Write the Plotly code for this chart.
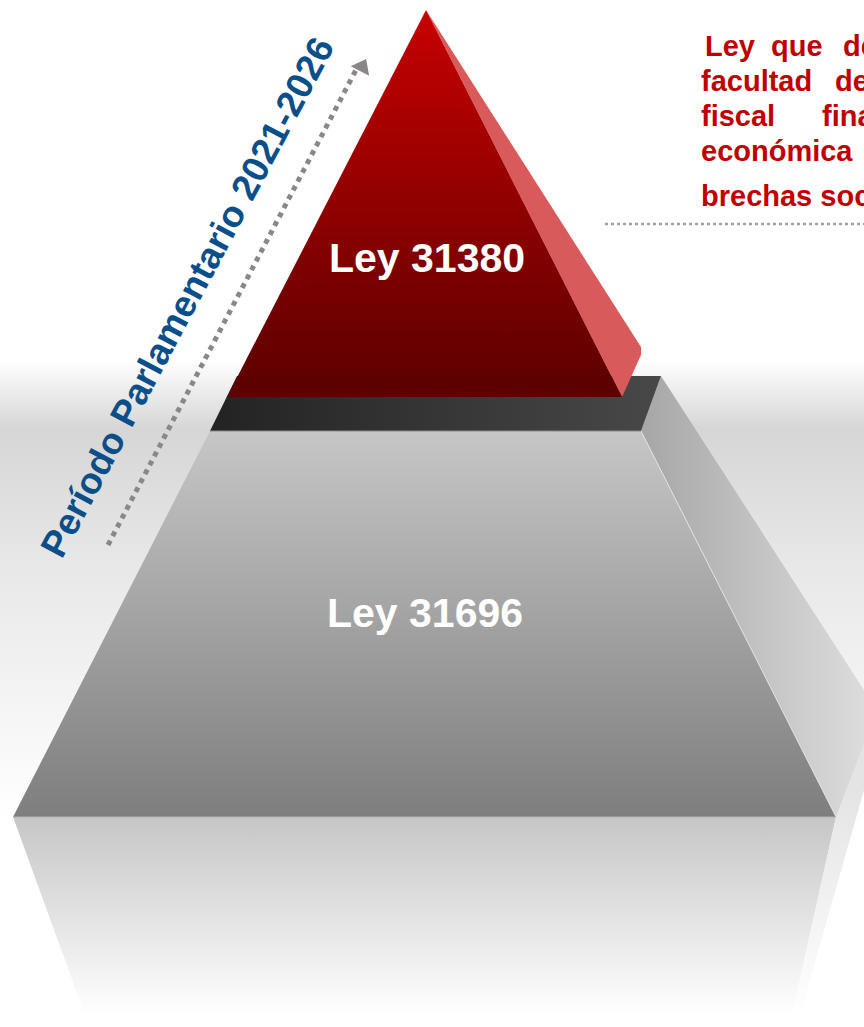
import plotly.graph_objects as go

# ---- data (labels and shape geometry in pixel space of the slide) ----
law_labels = ["Ley 31380", "Ley 31696"]
law_label_x = [427, 425]
law_label_y = [258, 613]
period_label = "Período Parlamentario 2021-2026"
desc_lines = [
    ["Ley", "que", "delega"],
    ["facultad", "de", "legislar"],
    ["fiscal", "financiera"],
    ["económica"],
    ["brechas sociales"],
]
desc_word_x = [
    [703, 769, 841],
    [699, 833, 920],
    [699, 820],
    [699],
    [699],
]
desc_line_y = [46, 81, 116, 151, 196]

# pyramid geometry (pixels)
red_front_x = [426, 622, 227]
red_front_y = [10, 397, 397]
red_side_x = [426, 641, 641, 622]
red_side_y = [10, 347, 355, 397]
slab_x = [237, 661, 641, 210]
slab_y = [376, 376, 431, 431]
base_front_x = [210, 641, 836, 13]
base_front_y = [431, 431, 817, 817]
base_side_x = [641, 661, 864, 864, 836]
base_side_y = [431, 376, 690, 745, 817]
edge_x = [641, 836]
edge_y = [431, 817]
refl_x = [13, 836, 792, 85]
refl_y = [817, 817, 1015, 1015]
refl_side_x = [836, 864, 864, 800, 792]
refl_side_y = [817, 745, 790, 1015, 1015]
bg_x = [0, 864, 864, 0]
bg_y = [360, 360, 820, 820]
arrow_x = [108, 357]
arrow_y = [545, 68]
arrow_tip = (362, 59)
leader_x = [605, 864]
leader_y = [224, 224]

W, H = 864, 1027
fig = go.Figure()


def poly(xs, ys, colorscale, gtype, start, stop):
    fig.add_trace(go.Scatter(
        x=xs + [xs[0]], y=ys + [ys[0]], mode="lines", fill="toself",
        line=dict(width=0, color="rgba(0,0,0,0)"),
        fillgradient=dict(type=gtype, colorscale=colorscale, start=start, stop=stop),
        hoverinfo="skip", showlegend=False))


# background soft band
poly(bg_x, bg_y, [[0, "#FFFFFF"], [0.15, "#D6D6D6"], [0.45, "#E8E8E8"], [1, "#FFFFFF"]],
     "vertical", 360, 820)
# reflection
poly(refl_x, refl_y, [[0, "#C6C6C6"], [1, "#FFFFFF"]], "vertical", 817, 1015)
poly(refl_side_x, refl_side_y, [[0, "#E4E4E4"], [1, "#FFFFFF"]], "vertical", 790, 1015)
# base side
poly(base_side_x, base_side_y, [[0, "#A6A6A6"], [1, "#DCDCDC"]], "horizontal", 641, 864)
# base front
poly(base_front_x, base_front_y, [[0, "#C6C6C6"], [1, "#7E7E7E"]], "vertical", 431, 817)
fig.add_trace(go.Scatter(x=edge_x, y=edge_y, mode="lines",
                         line=dict(color="rgba(235,235,235,0.8)", width=1),
                         hoverinfo="skip", showlegend=False))
fig.add_trace(go.Scatter(x=[base_front_x[3], base_front_x[2]], y=[817, 817], mode="lines",
                         line=dict(color="#B4B4B4", width=1),
                         hoverinfo="skip", showlegend=False))
# dark slab (top of base)
poly(slab_x, slab_y, [[0, "#232323"], [1, "#484848"]], "horizontal", 210, 661)
fig.add_trace(go.Scatter(x=[slab_x[3], slab_x[2]], y=[431, 431], mode="lines",
                         line=dict(color="#8A8A8A", width=1),
                         hoverinfo="skip", showlegend=False))
# red side
poly(red_side_x, red_side_y, [[0, "#D95A5A"], [1, "#D95A5A"]], "vertical", 10, 397)
# red front
poly(red_front_x, red_front_y, [[0, "#C80000"], [1, "#5A0000"]], "vertical", 10, 397)

# dotted arrow
fig.add_trace(go.Scatter(x=arrow_x, y=arrow_y, mode="lines",
                         line=dict(color="#8C8787", width=5, dash="dot"),
                         hoverinfo="skip", showlegend=False))
fig.add_trace(go.Scatter(x=[arrow_tip[0]], y=[arrow_tip[1] + 8], mode="markers",
                         marker=dict(symbol="triangle-up", size=18, color="#8C8787",
                                     angle=27.5, line=dict(width=0)),
                         hoverinfo="skip", showlegend=False))
# leader line
fig.add_trace(go.Scatter(x=leader_x, y=leader_y, mode="lines",
                         line=dict(color="#A0A0A0", width=2.5, dash="dot"),
                         hoverinfo="skip", showlegend=False))

font_family = "Liberation Sans, Arial, sans-serif"
for lab, lx, ly in zip(law_labels, law_label_x, law_label_y):
    fig.add_annotation(x=lx, y=ly, text=lab, showarrow=False, xref="x", yref="y",
                       font=dict(family=font_family, size=41, color="white", weight="bold"))

fig.add_annotation(x=187, y=297, text=period_label, showarrow=False, xref="x", yref="y",
                   textangle=-62,
                   font=dict(family=font_family, size=37, color="#0B4F8A", weight="bold"))

for words, xs, ly in zip(desc_lines, desc_word_x, desc_line_y):
    for w, wx in zip(words, xs):
        fig.add_annotation(x=wx, y=ly, text=w, showarrow=False, xref="x", yref="y",
                           xanchor="left", yanchor="middle",
                           font=dict(family=font_family, size=29, color="#C00000", weight="bold"))

fig.update_layout(
    width=W, height=H, margin=dict(l=0, r=0, t=0, b=0),
    paper_bgcolor="white", plot_bgcolor="white",
    xaxis=dict(range=[0, W], visible=False, fixedrange=True),
    yaxis=dict(range=[H, 0], visible=False, fixedrange=True),
    showlegend=False,
)
fig.write_html(
    "out.html",
    config={"displayModeBar": False},
    post_script="document.body.style.margin='0';document.body.style.overflow='hidden';",
)
